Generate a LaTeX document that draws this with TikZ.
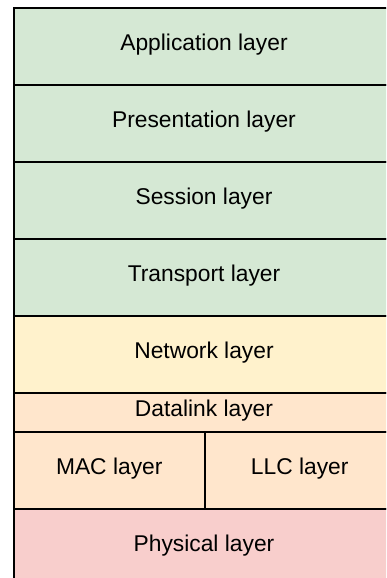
\documentclass[tikz,border=0pt]{standalone}
\usepackage{fontspec}
\setmainfont{Liberation Sans}
\definecolor{upperfill}{HTML}{D5E8D4}
\definecolor{netfill}{HTML}{FFF2CC}
\definecolor{linkfill}{HTML}{FFE6CC}
\definecolor{physfill}{HTML}{F8CECC}
\definecolor{edge}{HTML}{000000}
\tikzset{
  layer/.style={draw=edge, line width=2pt, anchor=north west, inner sep=0pt,
    minimum width=380pt, minimum height=77pt,
    text height=0.8em, text depth=0pt,
    font=\fontsize{22.8}{26}\selectfont},
  halflayer/.style={layer, minimum width=190.5pt},
  thinlayer/.style={layer, minimum height=38.5pt},
}
\begin{document}
\begin{tikzpicture}[x=1pt,y=-1pt]
  \useasboundingbox (0,0) rectangle (386,578);
  \clip (0,0) rectangle (386,578);
  \fill[white] (0,0) rectangle (386,578);
  % OSI stack, top to bottom
  \node[layer, fill=upperfill] (app)  at (13,7)   {Application layer};
  \node[layer, fill=upperfill] (pres) at (13,84)  {Presentation layer};
  \node[layer, fill=upperfill] (sess) at (13,161) {Session layer};
  \node[layer, fill=upperfill] (trans) at (13,238) {Transport layer};
  \node[layer, fill=netfill]   (net)  at (13,315) {Network layer};
  \node[thinlayer, fill=linkfill] (dl) at (13,392) {Datalink layer};
  \node[halflayer, fill=linkfill] (mac) at (13,430.5) {MAC layer};
  \node[halflayer, fill=linkfill] (llc) at (203.5,430.5) {LLC layer};
  \node[layer, fill=physfill]  (phy)  at (13,507.5) {Physical layer};
\end{tikzpicture}
\end{document}
